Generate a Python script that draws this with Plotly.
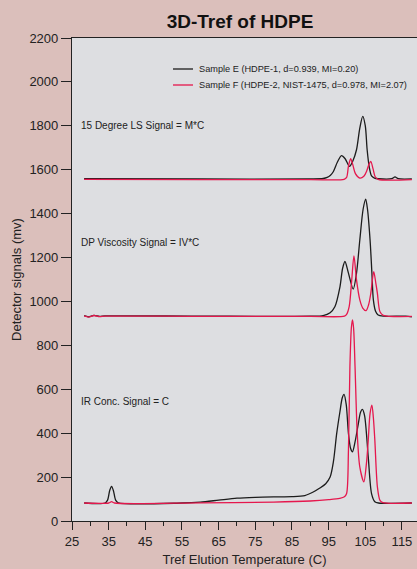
import plotly.graph_objects as go

# ---- data (temperature C, detector signal mv) ----
# 15 degree LS signal
ls_e_t = [28.3, 60, 90, 93.5, 94.6, 95.5, 96.3, 97.4, 98.5, 99.5, 100.7, 101.6, 102.6, 103.5, 104.3, 105.0, 105.5, 106.1, 106.7, 107.5, 108.5, 112.2, 113.1, 114.0, 117.7]
ls_e_v = [1559, 1558, 1558, 1560, 1565, 1575, 1592, 1635, 1664, 1650, 1615, 1640, 1691, 1790, 1843, 1800, 1691, 1610, 1572, 1562, 1559, 1559, 1567, 1559, 1558]
ls_f_t = [28.3, 60, 90, 99.2, 99.9, 100.4, 101.0, 101.6, 102.3, 103.5, 104.6, 105.4, 106.0, 106.5, 107.1, 107.7, 108.5, 117.7]
ls_f_v = [1556, 1555, 1555, 1556, 1565, 1615, 1650, 1622, 1582, 1562, 1570, 1595, 1625, 1638, 1605, 1568, 1556, 1555]

# DP viscosity signal
dp_e_t = [28.3, 29.5, 31.0, 32.5, 34, 60, 90, 93.5, 95.4, 96.7, 98.1, 98.8, 99.45, 100.4, 101.7, 102.6, 103.5, 104.4, 105.1, 105.6, 106.3, 106.8, 107.2, 107.8, 108.5, 110, 116, 117.7]
dp_e_v = [935, 930, 937, 932, 934, 933, 933, 936, 949, 976, 1068, 1150, 1182, 1129, 1056, 1129, 1280, 1420, 1466, 1420, 1280, 1130, 1007, 955, 938, 933, 933, 930]
dp_f_t = [28.3, 29.5, 31.0, 32.5, 34, 60, 90, 99.3, 99.9, 100.6, 101.3, 101.9, 102.6, 103.5, 104.3, 105.2, 105.9, 106.5, 107.3, 107.9, 108.3, 109.0, 109.9, 117.7]
dp_f_v = [934, 929, 936, 931, 933, 932, 932, 933, 941, 976, 1098, 1208, 1098, 1007, 970, 958, 985, 1037, 1136, 1080, 1037, 953, 937, 932]

# IR concentration signal
ir_e_t = [28.3, 34.0, 34.7, 35.3, 35.8, 36.3, 36.9, 37.6, 55, 60, 65, 70, 75, 80, 85, 88.5, 90.8, 92.6, 94.2, 95.4, 96.3, 97.2, 98.1, 98.7, 99.2, 99.8, 100.4, 101.0, 101.5, 102.2, 103.1, 103.7, 104.2, 104.8, 105.8, 106.7, 107.6, 108.6, 117.7]
ir_e_v = [82, 82, 95, 140, 158, 138, 95, 83, 82, 86, 95, 104, 108, 110, 111, 116, 132, 150, 170, 200, 270, 399, 500, 560, 577, 530, 399, 330, 315, 360, 444, 495, 508, 480, 292, 125, 88, 82, 82]
ir_f_t = [28.3, 35.0, 35.8, 36.6, 60, 80, 90, 95, 98, 99.3, 99.9, 100.4, 100.8, 101.2, 101.5, 101.8, 102.2, 102.8, 103.5, 104.6, 105.3, 105.8, 106.3, 106.8, 107.2, 107.6, 108.3, 109.0, 109.8, 117.7]
ir_f_v = [82, 82, 88, 82, 83, 86, 91, 97, 103, 110, 125, 322, 703, 880, 916, 880, 703, 399, 246, 178, 260, 368, 490, 528, 470, 368, 155, 94, 84, 82]

x_ticks = [25, 35, 45, 55, 65, 75, 85, 95, 105, 115]
y_ticks = [0, 200, 400, 600, 800, 1000, 1200, 1400, 1600, 1800, 2000, 2200]

name_e = "Sample E (HDPE-1, d=0.939, MI=0.20)"
name_f = "Sample F (HDPE-2, NIST-1475, d=0.978, MI=2.07)"
signal_labels = ["15 Degree LS Signal = M*C", "DP Viscosity Signal = IV*C", "IR Conc. Signal = C"]
label_y = [1800, 1270, 545]

BLACK = "#1c1c1c"
RED = "#e5174d"

W, H = 417, 569
ML, MR, MT, MB = 72, 0, 38, 48
PW, PH = W - ML - MR, H - MT - MB

fig = go.Figure()
series = [
    (ir_e_t, ir_e_v, BLACK, name_e),
    (ir_f_t, ir_f_v, RED, name_f),
    (dp_e_t, dp_e_v, BLACK, name_e),
    (dp_f_t, dp_f_v, RED, name_f),
    (ls_e_t, ls_e_v, BLACK, name_e),
    (ls_f_t, ls_f_v, RED, name_f),
]
for t, v, c, n in series:
    fig.add_trace(go.Scatter(
        x=t, y=v, mode="lines", name=n, legendgroup=n, showlegend=False,
        line=dict(color=c, width=1.3, shape="spline", smoothing=0.8),
    ))

for txt, yy in zip(signal_labels, label_y):
    fig.add_annotation(x=0.02, xref="paper", y=yy, yref="y", text=txt,
                       showarrow=False, xanchor="left", yanchor="middle",
                       font=dict(family="Liberation Sans, Arial", size=10, color="#222"))

# legend drawn inside the plot
for (name, col), py in zip([(name_e, BLACK), (name_f, RED)], [69, 85]):
    yp = (H - MB - py) / PH
    fig.add_shape(type="line", xref="paper", yref="paper",
                  x0=(173 - ML) / PW, x1=(193 - ML) / PW, y0=yp, y1=yp,
                  line=dict(color=col, width=1.3))
    fig.add_annotation(x=(197 - ML) / PW, xref="paper", y=yp, yref="paper", text=name,
                       showarrow=False, xanchor="left", yanchor="middle",
                       font=dict(family="Liberation Sans, Arial", size=9.2, color="#222"))

fig.update_layout(
    width=W, height=H,
    margin=dict(l=ML, r=MR, t=MT, b=MB),
    paper_bgcolor="#dbbfbb",
    plot_bgcolor="#dddee1",
    font=dict(family="Liberation Sans, Arial", size=13, color="#222"),
    title=dict(text="<b>3D-Tref of HDPE</b>", x=240 / W, xanchor="center",
               y=1 - 21 / H, yanchor="middle",
               font=dict(family="Liberation Sans, Arial", size=19, color="#111")),
    showlegend=False,
)
fig.update_xaxes(
    range=[25, 119.1], tickvals=x_ticks, ticks="outside", ticklen=8, tickwidth=1,
    tickcolor="#222", showline=True, linecolor="#222", linewidth=1.2, mirror=True,
    showgrid=False, zeroline=False,
    minor=dict(dtick=5, tick0=25, ticks="outside", ticklen=4, tickcolor="#222", showgrid=False),
    title=dict(text="Tref Elution Temperature (C)", standoff=7, font=dict(size=13)),
    tickfont=dict(size=13),
)
fig.update_yaxes(
    range=[0, 2200], tickvals=y_ticks, ticks="outside", ticklen=10, tickwidth=1,
    tickcolor="#222", showline=True, linecolor="#222", linewidth=1.2,
    showgrid=False, zeroline=False,
    title=dict(text="Detector signals (mv)", standoff=4, font=dict(size=13)),
    tickfont=dict(size=13),
)

fig.write_html("out.html")
